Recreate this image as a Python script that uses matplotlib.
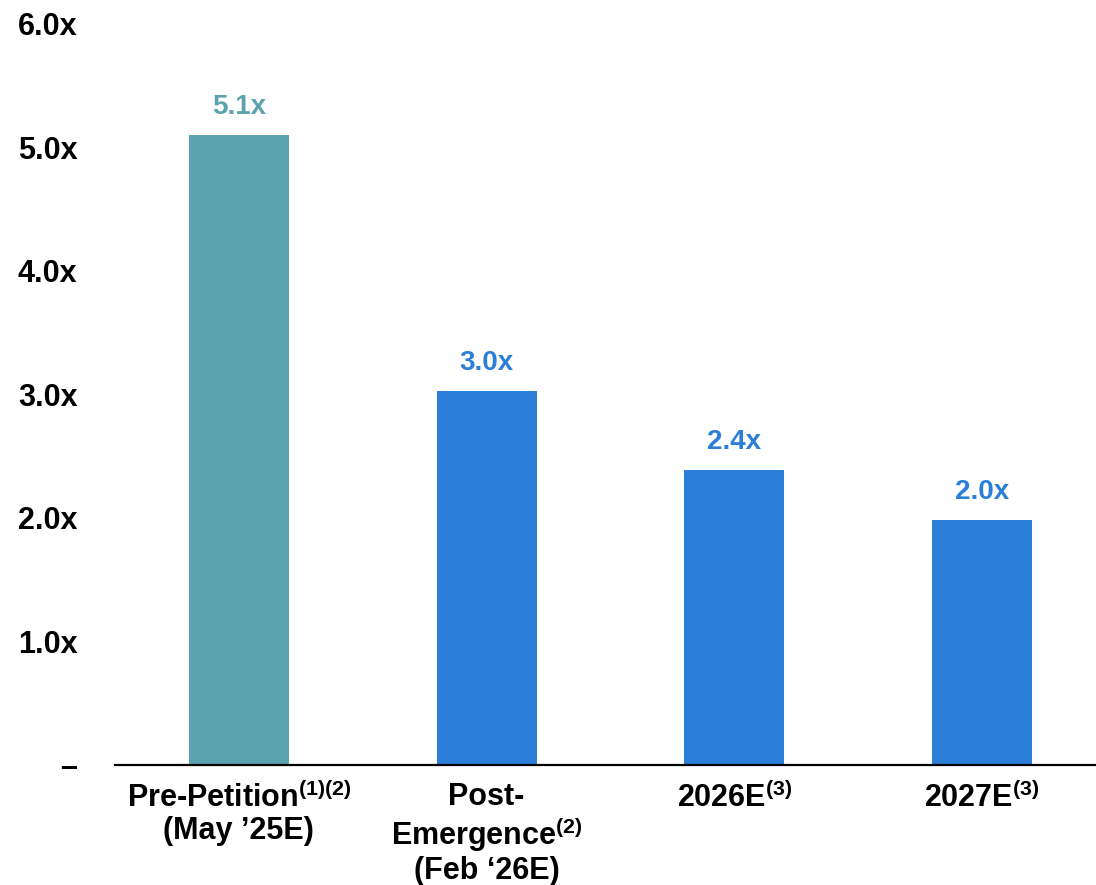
import matplotlib.pyplot as plt

plt.rcParams['font.family'] = ['Liberation Sans', 'DejaVu Sans']
plt.rcParams['font.weight'] = 'bold'
plt.rcParams['mathtext.fontset'] = 'custom'
plt.rcParams['mathtext.rm'] = 'Liberation Sans:bold'
plt.rcParams['mathtext.it'] = 'Liberation Sans:bold'
plt.rcParams['mathtext.bf'] = 'Liberation Sans:bold'

categories = ['Pre-Petition$^{(1)(2)}$\n(May \u201925E)',
              'Post-\nEmergence$^{(2)}$\n(Feb \u201826E)',
              '2026E$^{(3)}$',
              '2027E$^{(3)}$']
values = [5.1, 3.03, 2.39, 1.98]
value_labels = ['5.1x', '3.0x', '2.4x', '2.0x']
bar_colors = ['#5BA3AE', '#2B7FD8', '#2B7FD8', '#2B7FD8']
y_ticks = [0, 1, 2, 3, 4, 5, 6]
y_tick_labels = ['\u2013', '1.0x', '2.0x', '3.0x', '4.0x', '5.0x', '6.0x']

fig = plt.figure(figsize=(10.96, 8.85), dpi=100)
ax = fig.add_axes([0.105, 0.1356, 0.895, 0.8373])

x = range(len(categories))
bars = ax.bar(x, values, width=0.403, color=bar_colors)

for b, lab, c in zip(bars, value_labels, bar_colors):
    ax.annotate(lab, (b.get_x() + b.get_width() / 2, b.get_height()),
                xytext=(0, 11), textcoords='offset points',
                ha='center', va='bottom', fontsize=20, color=c, fontweight='bold')

ax.set_xlim(-0.5, 3.46)
ax.set_ylim(0, 6)
ax.set_xticks(list(x))
ax.set_xticklabels(categories, fontsize=22, fontweight='bold', linespacing=1.1)
ax.set_yticks(y_ticks)
ax.set_yticklabels(y_tick_labels, fontsize=22, fontweight='bold')
ax.tick_params(axis='both', length=0)
ax.tick_params(axis='y', pad=27)
ax.tick_params(axis='x', pad=12)

for s in ['top', 'right', 'left']:
    ax.spines[s].set_visible(False)
ax.spines['bottom'].set_linewidth(1.6)
ax.spines['bottom'].set_color('black')

fig.savefig('out.png', dpi=100)
